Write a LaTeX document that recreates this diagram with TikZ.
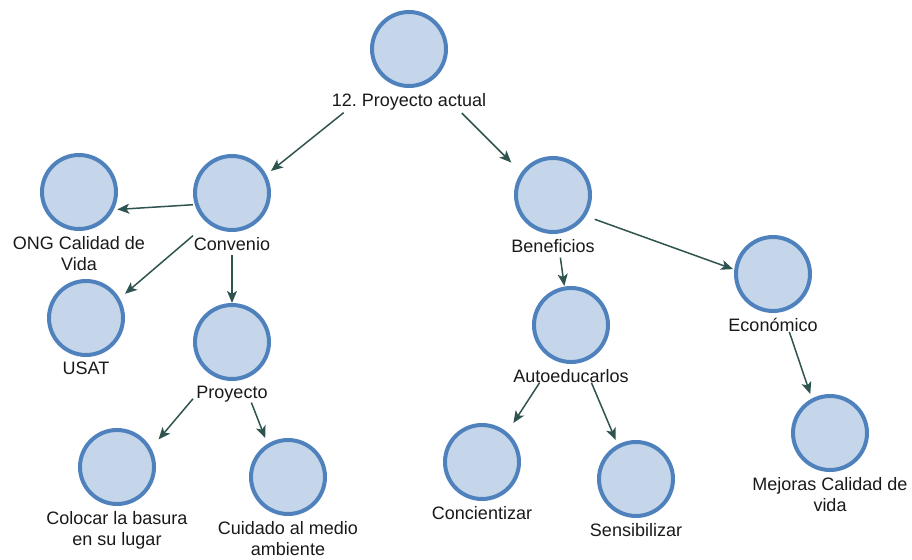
\documentclass[tikz,border=0pt]{standalone}
\usepackage{fontspec}
\setmainfont{Liberation Sans}
\usetikzlibrary{arrows.meta,fit}
\definecolor{nodefill}{RGB}{197,214,234}
\definecolor{nodeline}{RGB}{79,129,189}
\definecolor{arrowcol}{RGB}{47,84,80}
\definecolor{textcol}{RGB}{25,25,25}
\frenchspacing

% one concept: a filled circle, its caption below, and an invisible box around both
\newcommand{\mapnode}[4]{%
  \node[bubble] (#1) at (#2,#3) {};
  \node[caption] (#1-t) at (#2,#3+44) {#4};
  \node[group, fit=(#1)(#1-t)] (#1-g) {};
}

\begin{document}
\begin{tikzpicture}[x=1pt,y=-1pt,
  bubble/.style={circle, draw=nodeline, fill=nodefill, line width=4pt,
    minimum size=74pt, inner sep=0pt},
  caption/.style={anchor=north, inner sep=0pt, align=center, text=textcol,
    font=\fontsize{18}{21}\selectfont},
  group/.style={inner sep=0pt, outer sep=0pt},
  link/.style={draw=arrowcol, line width=1.5pt,
    -{Stealth[length=12pt,width=10pt,inset=3pt]}}]
\useasboundingbox (0,0) rectangle (912,559);

\mapnode{top}{409}{49}{12. Proyecto actual}
\mapnode{conv}{232}{193}{Convenio}
\mapnode{ong}{79}{192}{ONG Calidad de\\Vida}
\mapnode{usat}{86}{318}{USAT}
\mapnode{proy}{232}{342}{Proyecto}
\mapnode{col}{117}{467}{Colocar la basura\\en su lugar}
\mapnode{cuid}{288}{477}{Cuidado al medio\\ambiente}
\mapnode{ben}{553}{195}{Beneficios}
\mapnode{auto}{571}{325}{Autoeducarlos}
\mapnode{eco}{773}{274}{Económico}
\mapnode{conc}{482}{462}{Concientizar}
\mapnode{sens}{636}{479}{Sensibilizar}
\mapnode{mej}{830}{433}{Mejoras Calidad de\\vida}

\draw[link, shorten <=4pt] (top-g) -- (conv-g);
\draw[link, shorten <=4pt] (top-g) -- (ben-g);
\draw[link, shorten >=-28pt] (conv-g) -- (ong-g);
\draw[link] (conv-g) -- (usat-g);
\draw[link, shorten <=4pt] (conv-g) -- (proy-g);
\draw[link, shorten >=-15pt] (proy-g) -- (col-g);
\draw[link] (proy-g) -- (cuid-g);
\draw[link, shorten <=5pt] (ben-g) -- (auto-g);
\draw[link, shorten >=-5pt] (ben-g) -- (eco-g);
\draw[link] (auto-g) -- (conc-g);
\draw[link] (auto-g) -- (sens-g);
\draw[link] (eco-g) -- (mej-g);
\end{tikzpicture}
\end{document}
